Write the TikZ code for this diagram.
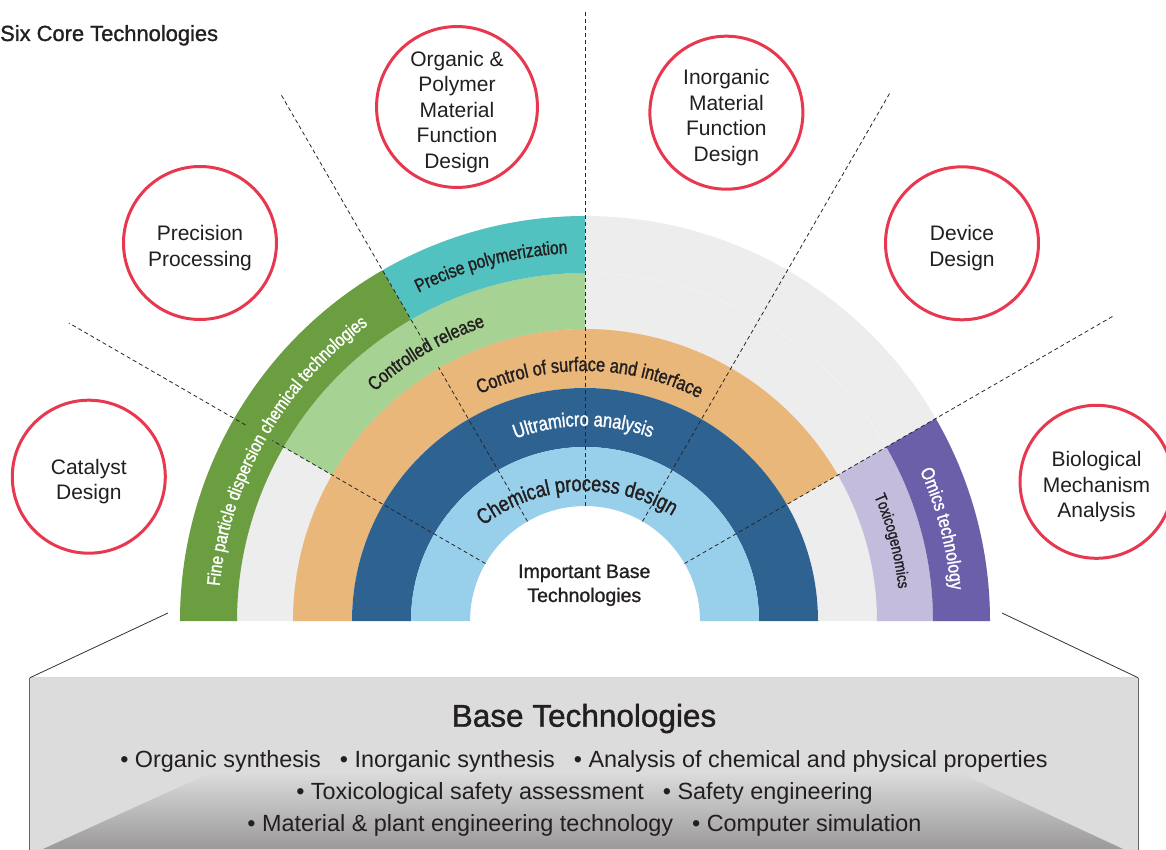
\documentclass[tikz,border=0pt]{standalone}
\usepackage{fontspec}
\setmainfont{Liberation Sans}
\newfontfamily\condfont[FakeStretch=0.82, FakeBold=1.3]{Liberation Sans}
\newfontfamily\medfont[FakeBold=1.2]{Liberation Sans}
\usetikzlibrary{decorations.text}

\definecolor{inkgray}{HTML}{231F20}
\definecolor{ringgray}{HTML}{EDEDED}
\definecolor{ringgreen}{HTML}{6A9E40}
\definecolor{ringteal}{HTML}{52C2C0}
\definecolor{ringlime}{HTML}{A6D394}
\definecolor{ringorange}{HTML}{E9B77A}
\definecolor{ringnavy}{HTML}{2E6291}
\definecolor{ringsky}{HTML}{98D0EB}
\definecolor{ringlilac}{HTML}{C3BCDD}
\definecolor{ringviolet}{HTML}{6A5FA8}
\definecolor{corered}{HTML}{E8384F}
\definecolor{boxgray}{HTML}{DCDCDC}
\definecolor{boxdark}{HTML}{9B999A}

% colour, start angle, end angle, inner radius, outer radius
\newcommand{\ringpart}[5]{%
  \fill[#1] (#2:#4) arc[start angle=#2, end angle=#3, radius=#4]
    -- (#3:#5) arc[start angle=#3, end angle=#2, radius=#5] -- cycle;}

% colour, size, radius, start angle, end angle, text
\newcommand{\arclabel}[6]{%
  \path[decorate, decoration={text along path, text align=center, text color=#1,
    text={|\condfont\fontsize{#2}{#2}\selectfont|#6}}]
    (#4:#3) arc[start angle=#4, end angle=#5, radius=#3];}

% taller first line, so the words sit a little lower in the circle
\newcommand{\corelift}{\rule{0pt}{25pt}}

\begin{document}
\begin{tikzpicture}[x=1pt, y=1pt,
  core/.style={circle, draw=corered, line width=3pt, fill=white, minimum size=153pt,
    inner sep=0pt, align=center, text=inkgray, font=\fontsize{21}{25.5}\selectfont},
  guide/.style={black!85, line width=0.8pt, dash pattern=on 4pt off 3pt},
  link/.style={black!80, line width=0.8pt},
  basebox/.style={fill=boxgray, minimum width=1108pt, minimum height=183pt, inner sep=0pt},
  boxtext/.style={anchor=base, inner sep=0pt, text=inkgray, font=\fontsize{23.4}{28}\selectfont}]

\useasboundingbox (-585,-228) rectangle (581,621);

% rings
\ringpart{ringgray}{0}{180}{233}{405}
\ringpart{ringorange}{30}{180}{233}{292}
\ringpart{ringnavy}{0}{180}{174}{233}
\ringpart{ringsky}{0}{180}{115}{174}
\ringpart{ringlime}{90}{150}{292}{348}
\ringpart{ringgreen}{120}{180}{348}{405}
\ringpart{ringteal}{90}{120}{348}{405}
\ringpart{ringlilac}{0}{30}{292}{348}
\ringpart{ringviolet}{0}{30}{348}{405}

\draw[white, line width=0.5pt, opacity=0.4] (30:348) arc[start angle=30, end angle=90, radius=348];

\foreach \ang/\rin/\rout in {30/115/610, 60/115/609, 90/115/611, 120/115/293,
    120/316/609, 150/115/361, 150/392/596}
  \draw[guide] (\ang:\rin) -- (\ang:\rout);

% labels on the rings
\arclabel{white}{18.5}{367}{180}{120.8}{Fine particle dispersion chemical technologies}
\arclabel{inkgray}{18.8}{368}{124.8}{84.8}{Precise polymerization}
\arclabel{inkgray}{19.4}{311}{140.6}{100.6}{Controlled release}
\arclabel{inkgray}{19.8}{250}{128.9}{48.9}{Control of surface and interface}
\arclabel{white}{20}{195}{125.5}{55.5}{Ultramicro analysis}
\arclabel{white}{19}{367}{29.5}{-0.5}{Omics technology}
\arclabel{inkgray}{16.2}{315}{29.6}{-0.4}{Toxicogenomics}

\begin{scope}[yshift=-36pt]
\arclabel{inkgray}{22}{166}{148}{38}{Chemical process design}
\end{scope}

\node[inner sep=0pt, align=center, text=inkgray, font=\medfont\fontsize{19.5}{24}\selectfont]
  (important) at (-0.7,35.7) {Important Base\\Technologies};

\node[anchor=base west, inner sep=0pt, text=inkgray, font=\medfont\fontsize{21.9}{26}\selectfont]
  (title) at (-585,580) {Six Core Technologies};

% core technologies
\node[core] (catalyst) at (-496.2,144.3) {\corelift Catalyst\\Design};
\node[core] (precision) at (-385,378) {\corelift Precision\\Processing};
\node[core] (organic) at (-128,514) {\corelift Organic \&\\Polymer\\Material\\Function\\Design};
\node[core] (inorganic) at (141.4,508.3) {\corelift Inorganic\\Material\\Function\\Design};
\node[core] (device) at (377,377.7) {\corelift Device\\Design};
\node[core] (bio) at (511.5,139.2) {\corelift Biological\\Mechanism\\Analysis};

% base box
\node[basebox] (base) at (-1,-148.5) {};
\shade[top color=boxgray, bottom color=boxdark]
  (-542,-228) -- (-372,-150.7) -- (371.7,-150.7) -- (538,-228) -- cycle;
\draw[black!15, line width=0.8pt] (base.north west) -- (base.north east);
\draw[black!60, line width=1.2pt] (base.north west) -- (base.south west);
\draw[black!60, line width=1.2pt] (base.north east) -- (base.south east);

\coordinate (fan_left) at (-417,8);
\coordinate (fan_right) at (417,8);
\draw[link] (fan_left) -- (base.north west);
\draw[link] (fan_right) -- (base.north east);

\node[boxtext, font=\medfont\fontsize{31.5}{36}\selectfont] (base_title) at (-1,-105.7) {Base Technologies};
\node[boxtext] (base_one) at (-1,-146.3)
  {• Organic synthesis\hspace{19pt}• Inorganic synthesis\hspace{19pt}• Analysis of chemical and physical properties};
\node[boxtext] (base_two) at (-0.5,-178.5)
  {• Toxicological safety assessment\hspace{19pt}• Safety engineering};
\node[boxtext] (base_three) at (-0.5,-210.7)
  {• Material \& plant engineering technology\hspace{19pt}• Computer simulation};

\end{tikzpicture}
\end{document}
